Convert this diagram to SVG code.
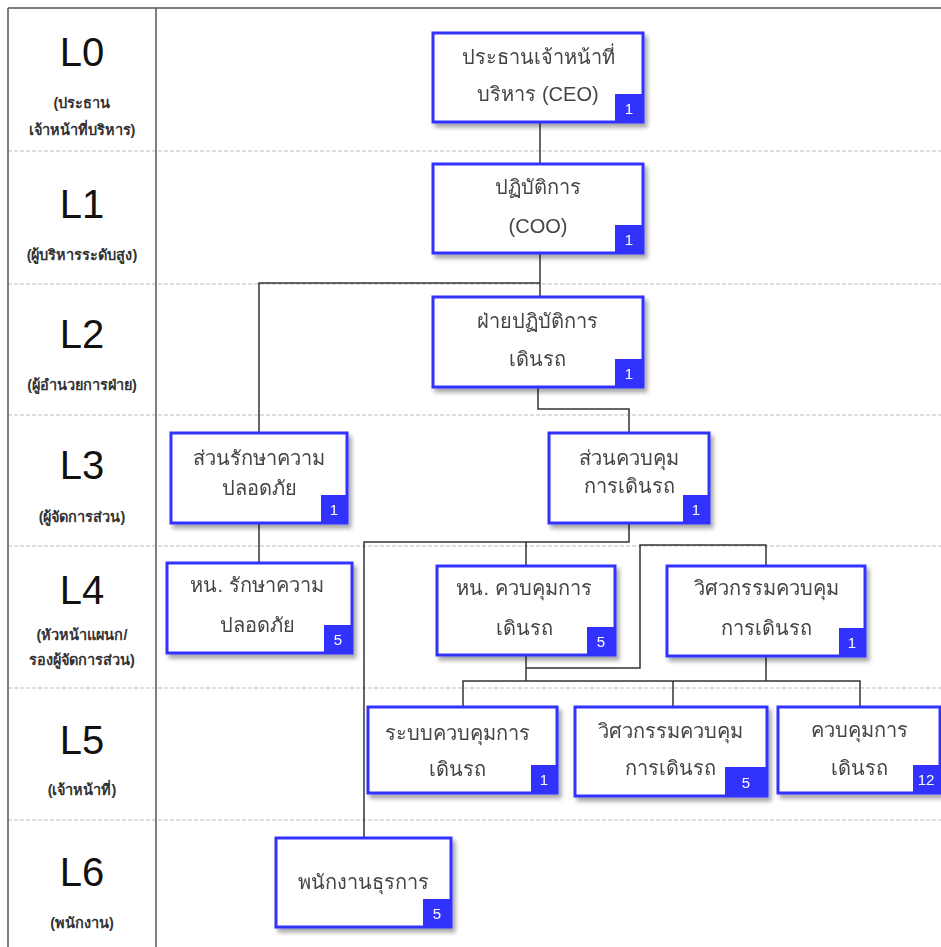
<svg xmlns="http://www.w3.org/2000/svg" width="941" height="947" viewBox="0 0 941 947">
  <defs>
    <filter id="shadow" x="-10%" y="-10%" width="125%" height="130%">
      <feDropShadow dx="3" dy="4" stdDeviation="2" flood-color="#000" flood-opacity="0.35"/>
    </filter>
    <style>
      .frame { stroke: #555; stroke-width: 1.5; fill: none; }
      .row { stroke: #bbb; stroke-width: 1; stroke-dasharray: 4 2; fill: none; }
      .lvl { font-family: "Liberation Sans", Arial, sans-serif; font-size: 40px; fill: #111; text-anchor: middle; }
      .sub { font-family: "Liberation Sans", "DejaVu Sans", sans-serif; font-size: 14.5px; font-weight: bold; fill: #333; text-anchor: middle; }
      .box { fill: #fff; stroke: #3333ff; stroke-width: 3; }
      .lbl { font-family: "Liberation Sans", "DejaVu Sans", sans-serif; font-size: 20px; fill: #444; text-anchor: middle; }
      .badge { fill: #3333ff; }
      .num { font-family: "Liberation Sans", Arial, sans-serif; font-size: 15px; fill: #fff; text-anchor: middle; }
      .wire { stroke: #333; stroke-width: 1.5; fill: none; }
    </style>
  </defs>

  <rect width="941" height="947" fill="#fff"/>

  <!-- row separators -->
  <g id="rows">
    <line class="row" x1="8" y1="151" x2="941" y2="151"/>
    <line class="row" x1="8" y1="284" x2="941" y2="284"/>
    <line class="row" x1="8" y1="415" x2="941" y2="415"/>
    <line class="row" x1="8" y1="546" x2="941" y2="546"/>
    <line class="row" x1="8" y1="688" x2="941" y2="688"/>
    <line class="row" x1="8" y1="820" x2="941" y2="820"/>
  </g>

  <!-- outer frame and level column -->
  <g id="frame">
    <line class="frame" x1="8" y1="8" x2="941" y2="8"/>
    <line class="frame" x1="8" y1="8" x2="8" y2="947"/>
    <line class="frame" x1="156" y1="8" x2="156" y2="947"/>
  </g>

  <g id="levels">
    <text class="lvl" x="82" y="66">L0</text>
    <text class="sub" x="82" y="108">(ประธาน</text>
    <text class="sub" x="82" y="135">เจ้าหน้าที่บริหาร)</text>
    <text class="lvl" x="82" y="218">L1</text>
    <text class="sub" x="82" y="260">(ผู้บริหารระดับสูง)</text>
    <text class="lvl" x="82" y="348">L2</text>
    <text class="sub" x="82" y="390">(ผู้อำนวยการฝ่าย)</text>
    <text class="lvl" x="82" y="479">L3</text>
    <text class="sub" x="82" y="522">(ผู้จัดการส่วน)</text>
    <text class="lvl" x="82" y="604">L4</text>
    <text class="sub" x="82" y="640">(หัวหน้าแผนก/</text>
    <text class="sub" x="82" y="665">รองผู้จัดการส่วน)</text>
    <text class="lvl" x="82" y="754">L5</text>
    <text class="sub" x="82" y="795">(เจ้าหน้าที่)</text>
    <text class="lvl" x="82" y="886">L6</text>
    <text class="sub" x="82" y="928">(พนักงาน)</text>
  </g>

  <!-- connectors -->
  <g id="connectors">
    <path class="wire" d="M540,122 V164"/>
    <path class="wire" d="M540,253 V297"/>
    <path class="wire" d="M259,433 V283 H540"/>
    <path class="wire" d="M538,387 V409 H629 V433"/>
    <path class="wire" d="M259,523 V563"/>
    <path class="wire" d="M629,523 V542 H364 V838"/>
    <path class="wire" d="M526,542 V566"/>
    <path class="wire" d="M526,655 V681"/>
    <path class="wire" d="M526,668 H640 V545 H766 V566"/>
    <path class="wire" d="M766,656 V681"/>
    <path class="wire" d="M463,707 V681 H860 V707"/>
    <path class="wire" d="M673,681 V707"/>
  </g>

  <!-- nodes -->
  <g id="n-ceo" filter="url(#shadow)">
    <rect class="box" x="433" y="33" width="210" height="89"/>
    <rect class="badge" x="615" y="94" width="28" height="28"/>
    <text class="num" x="629" y="114">1</text>
    <text class="lbl" x="538" y="64">ประธานเจ้าหน้าที่</text>
    <text class="lbl" x="538" y="101">บริหาร (CEO)</text>
  </g>

  <g id="n-coo" filter="url(#shadow)">
    <rect class="box" x="433" y="164" width="210" height="89"/>
    <rect class="badge" x="615" y="225" width="28" height="28"/>
    <text class="num" x="629" y="245">1</text>
    <text class="lbl" x="538" y="194">ปฏิบัติการ</text>
    <text class="lbl" x="538" y="233">(COO)</text>
  </g>

  <g id="n-ops" filter="url(#shadow)">
    <rect class="box" x="433" y="297" width="210" height="90"/>
    <rect class="badge" x="615" y="359" width="28" height="28"/>
    <text class="num" x="629" y="379">1</text>
    <text class="lbl" x="537" y="328">ฝ่ายปฏิบัติการ</text>
    <text class="lbl" x="537" y="366">เดินรถ</text>
  </g>

  <g id="n-safety" filter="url(#shadow)">
    <rect class="box" x="171" y="433" width="176" height="90"/>
    <rect class="badge" x="321" y="495" width="26" height="28"/>
    <text class="num" x="334" y="515">1</text>
    <text class="lbl" x="259" y="465">ส่วนรักษาความ</text>
    <text class="lbl" x="259" y="495">ปลอดภัย</text>
  </g>

  <g id="n-control" filter="url(#shadow)">
    <rect class="box" x="549" y="433" width="160" height="90"/>
    <rect class="badge" x="683" y="495" width="26" height="28"/>
    <text class="num" x="696" y="515">1</text>
    <text class="lbl" x="629" y="465">ส่วนควบคุม</text>
    <text class="lbl" x="629" y="493">การเดินรถ</text>
  </g>

  <g id="n-safety-head" filter="url(#shadow)">
    <rect class="box" x="167" y="563" width="185" height="90"/>
    <rect class="badge" x="324" y="625" width="28" height="28"/>
    <text class="num" x="338" y="645">5</text>
    <text class="lbl" x="257" y="592">หน. รักษาความ</text>
    <text class="lbl" x="257" y="632">ปลอดภัย</text>
  </g>

  <g id="n-control-head" filter="url(#shadow)">
    <rect class="box" x="437" y="566" width="178" height="89"/>
    <rect class="badge" x="587" y="627" width="28" height="28"/>
    <text class="num" x="601" y="647">5</text>
    <text class="lbl" x="524" y="595">หน. ควบคุมการ</text>
    <text class="lbl" x="524" y="635">เดินรถ</text>
  </g>

  <g id="n-eng-head" filter="url(#shadow)">
    <rect class="box" x="667" y="566" width="198" height="90"/>
    <rect class="badge" x="839" y="628" width="26" height="28"/>
    <text class="num" x="852" y="648">1</text>
    <text class="lbl" x="766" y="595">วิศวกรรมควบคุม</text>
    <text class="lbl" x="766" y="635">การเดินรถ</text>
  </g>

  <g id="n-system" filter="url(#shadow)">
    <rect class="box" x="368" y="707" width="189" height="86"/>
    <rect class="badge" x="531" y="765" width="26" height="28"/>
    <text class="num" x="544" y="785">1</text>
    <text class="lbl" x="457" y="740">ระบบควบคุมการ</text>
    <text class="lbl" x="457" y="776">เดินรถ</text>
  </g>

  <g id="n-engineering" filter="url(#shadow)">
    <rect class="box" x="575" y="707" width="192" height="89"/>
    <rect class="badge" x="725" y="767" width="42" height="29"/>
    <text class="num" x="746" y="788">5</text>
    <text class="lbl" x="670" y="738">วิศวกรรมควบคุม</text>
    <text class="lbl" x="670" y="775">การเดินรถ</text>
  </g>

  <g id="n-operations" filter="url(#shadow)">
    <rect class="box" x="778" y="707" width="162" height="86"/>
    <rect class="badge" x="913" y="765" width="27" height="28"/>
    <text class="num" x="926" y="785">12</text>
    <text class="lbl" x="859" y="737">ควบคุมการ</text>
    <text class="lbl" x="859" y="775">เดินรถ</text>
  </g>

  <g id="n-clerk" filter="url(#shadow)">
    <rect class="box" x="276" y="838" width="175" height="89"/>
    <rect class="badge" x="423" y="899" width="28" height="28"/>
    <text class="num" x="437" y="919">5</text>
    <text class="lbl" x="363" y="889">พนักงานธุรการ</text>
  </g>
</svg>
